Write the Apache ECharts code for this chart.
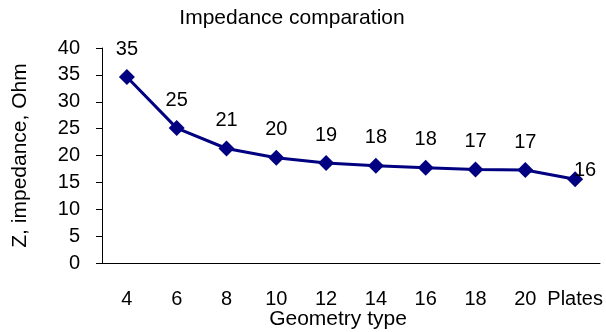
<!DOCTYPE html>
<html>
<head>
    <meta charset="UTF-8">
    <title>Impedance comparation</title>
    <script src="https://cdn.jsdelivr.net/npm/echarts@6/dist/echarts.min.js"></script>
    <style>
        body { margin: 0; background: #fff; }
        #chart { width: 606px; height: 332px; }
    </style>
</head>
<body>
    <div id="chart"></div>
    <script>
        // data
        const geometry = ['4', '6', '8', '10', '12', '14', '16', '18', '20', 'Plates'];
        const impedance = [34.6, 25.1, 21.3, 19.6, 18.6, 18.1, 17.7, 17.4, 17.3, 15.6];

        const font = 'Liberation Sans, Arial, sans-serif';
        const chart = echarts.init(document.getElementById('chart'));

        // last label sits beside its point, like in the original
        const points = impedance.map((v, i) => {
            if (i === impedance.length - 1) {
                return { value: v, label: { offset: [10, -9] } };
            }
            return v;
        });

        chart.setOption({
            animation: false,
            title: {
                text: 'Impedance comparation',
                left: 292,
                top: 8,
                padding: 0,
                textAlign: 'center',
                textStyle: { fontFamily: font, fontSize: 21, fontWeight: 'normal', color: '#000' }
            },
            grid: { left: 102, right: 6, top: 48, bottom: 69, outerBoundsMode: 'none' },
            xAxis: {
                type: 'category',
                data: geometry,
                name: 'Geometry type',
                nameLocation: 'middle',
                nameGap: 46,
                nameMoveOverlap: false,
                nameTextStyle: { fontFamily: font, fontSize: 21, color: '#000', padding: [0, 26, 0, 0] },
                axisLine: { lineStyle: { color: '#000', width: 1 } },
                axisTick: { length: 6, lineStyle: { color: '#888' } },
                axisLabel: { interval: 0, fontFamily: font, fontSize: 20, color: '#000', margin: 26 }
            },
            yAxis: {
                type: 'value',
                min: 0,
                max: 40,
                interval: 5,
                name: 'Z, impedance, Ohm',
                nameLocation: 'middle',
                nameGap: 71,
                nameMoveOverlap: false,
                nameTextStyle: { fontFamily: font, fontSize: 21, color: '#000' },
                axisLine: { show: true, lineStyle: { color: '#000', width: 1 } },
                axisTick: { show: true, length: 6, lineStyle: { color: '#000' } },
                axisLabel: { fontFamily: font, fontSize: 20, color: '#000', margin: 22 },
                splitLine: { show: false }
            },
            series: [{
                type: 'line',
                data: points,
                symbol: 'diamond',
                symbolSize: 16,
                lineStyle: { color: '#000080', width: 3 },
                itemStyle: { color: '#000080' },
                label: {
                    show: true,
                    position: 'inside',
                    offset: [0, -28],
                    fontFamily: font,
                    fontSize: 20,
                    color: '#000',
                    formatter: p => Math.round(p.value)
                }
            }]
        });
    </script>
</body>
</html>
